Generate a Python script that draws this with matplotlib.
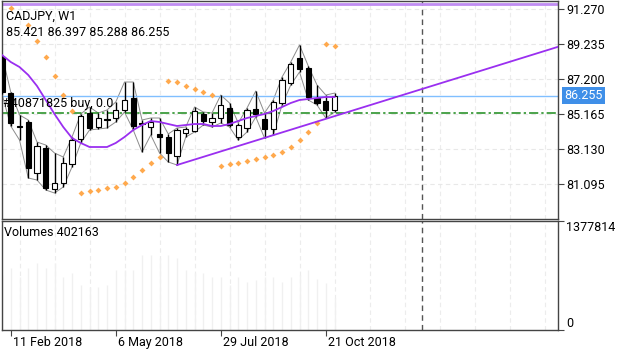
import matplotlib
matplotlib.use("Agg")
import matplotlib.pyplot as plt
import matplotlib.transforms as mtransforms
import numpy as np
import pandas as pd

plt.rcParams['font.family'] = ['Roboto', 'DejaVu Sans']

symbol = "CADJPY, W1"
dates = pd.date_range("2018-02-04", periods=39, freq="W-SUN")

# weekly OHLC
opens = [88.497, 86.404, 84.514, 84.718, 81.752, 83.206, 80.822, 81.171, 82.276, 83.729,
         85.241, 84.427, 84.892, 84.950, 85.415, 86.113, 84.659, 84.427, 84.020, 83.845,
         82.741, 84.078, 84.194, 85.183, 84.718, 84.950, 85.532, 83.845, 84.369, 85.473,
         84.892, 84.311, 85.822, 86.985, 88.439, 87.857, 86.113, 85.939, 85.421]
highs = [88.613, 86.462, 85.125, 84.834, 83.555, 83.380, 82.915, 82.683, 83.845, 85.183,
         85.590, 85.241, 85.415, 85.880, 87.043, 87.043, 84.834, 84.950, 84.950, 84.020,
         84.369, 84.427, 85.590, 85.299, 85.241, 86.287, 85.822, 84.659, 85.532, 86.520,
         85.241, 85.997, 87.334, 88.206, 89.195, 87.974, 86.869, 86.287, 86.397]
lows = [86.346, 84.485, 83.671, 81.462, 81.345, 80.764, 80.589, 80.938, 82.101, 83.497,
        84.252, 84.311, 84.369, 84.718, 85.299, 84.252, 82.973, 83.962, 82.915, 82.392,
        82.217, 83.845, 84.136, 84.543, 84.427, 84.659, 84.427, 83.671, 84.136, 85.008,
        83.787, 83.962, 85.706, 86.869, 87.625, 85.997, 85.706, 84.950, 85.288]
closes = [86.462, 84.659, 84.456, 82.043, 83.322, 80.880, 81.171, 82.334, 83.671, 85.066,
          84.369, 84.950, 84.834, 85.415, 85.997, 84.485, 84.601, 84.718, 83.845, 82.915,
          84.252, 84.311, 85.357, 84.776, 84.950, 85.706, 84.543, 84.543, 85.415, 85.183,
          84.311, 85.880, 87.160, 88.090, 87.799, 86.171, 85.822, 85.415, 86.255]

ma = [88.613, 88.206, 87.915, 87.450, 86.811, 85.997, 85.183, 84.427, 83.787, 83.497,
      83.264, 83.264, 83.264, 83.497, 83.845, 84.252, 84.543, 84.776, 84.718, 84.601,
      84.485, 84.543, 84.601, 84.601, 84.485, 84.485, 84.601, 84.776, 84.950, 85.066,
      85.183, 85.357, 85.590, 85.822, 85.997, 86.055, 86.113, 86.171, 86.171]

sar = [np.nan, 91.346, np.nan, 90.357, 89.427, 88.497, 87.392, 86.287, 85.357, 80.589,
       80.706, 80.764, 80.880, 80.938, 81.171, 81.520, 81.927, 82.334, 82.683, 87.101,
       87.043, 86.811, 86.636, 86.462, 86.287, 82.159, 82.276, 82.334, 82.450, 82.566,
       82.683, 82.799, 82.973, 83.264, 83.671, 84.136, 84.659, 89.253, 89.136]

volumes = [700000, 780000, 674000, 780000, 845000, 780000, 845000, 674000, 716000, 569000,
           548000, 548000, 569000, 758000, 758000, 758000, 948000, 948000, 906000, 948000,
           906000, 758000, 716000, 716000, 674000, 674000, 569000, 674000, 611000, 632000,
           674000, 674000, 611000, 674000, 700000, 760000, 650000, 600000, 402163]

price_ticks = [91.270, 89.235, 87.200, 85.165, 83.130, 81.095]
vol_max = 1377814
order_label = "#40871825 buy, 0.0"
order_price = 85.22
top_line_price = 91.578
trend_pts = [(20, 82.217), (37, 84.90)]
future_line = 48
date_tick_idx = [1, 13, 25, 37]

W, H = 625, 351
fig = plt.figure(figsize=(W / 100, H / 100), dpi=100)
ax = fig.add_axes([2 / W, (H - 219) / H, 556 / W, 218 / H])
vax = fig.add_axes([2 / W, (H - 330) / H, 556 / W, 109 / H])

x = np.arange(len(opens))
xmax = 63.54
for a in (ax, vax):
    a.set_xlim(0, xmax)
    for s in a.spines.values():
        s.set_color("#444444")
        s.set_linewidth(1)
    for g in range(2, 64, 4):
        a.axvline(g, color="#ececec", lw=0.8, ls=(0, (4, 3)), zorder=0)
    a.axvline(future_line, color="#555555", lw=1, ls=(0, (4, 3)), zorder=2)

ax.set_ylim(79.078, 91.753)
for p in price_ticks:
    ax.axhline(p, color="#e8e8e8", lw=0.8, ls=(0, (4, 3)), zorder=0)

# high / low envelope
ax.plot(x, highs, color="#8c8c8c", lw=0.7, zorder=1)
ax.plot(x, lows, color="#8c8c8c", lw=0.7, zorder=1)

# candles
o = np.array(opens)
c = np.array(closes)
ax.vlines(x, lows, highs, color="black", lw=1, zorder=3)
bottoms = np.minimum(o, c)
heights = np.maximum(np.abs(c - o), 0.04)
colors = ["white" if cc > oo else "black" for oo, cc in zip(o, c)]
ax.bar(x, heights, bottom=bottoms, width=0.6, color=colors, edgecolor="black",
       linewidth=0.8, zorder=3.5)

# indicators
ax.plot(x, ma, color="#9a2ff0", lw=1.3, zorder=4)
ax.scatter(x, sar, marker="D", s=9, color="#ffa94d", zorder=4, linewidths=0)
(t0, p0), (t1, p1) = trend_pts
slope = (p1 - p0) / (t1 - t0)
ax.plot([t0, xmax], [p0, p0 + slope * (xmax - t0)], color="#9a2ff0", lw=1.3, zorder=4)

ax.axhline(closes[-1], color="#80bfff", lw=1, zorder=2)
ax.axhline(order_price, color="#1a8a1a", lw=1.1, ls=(0, (6, 2, 1.5, 2)), zorder=2)
ax.axhline(top_line_price, color="#c08cf2", lw=2, zorder=2)

ax.yaxis.tick_right()
ax.set_yticks(price_ticks)
ax.set_yticklabels([f"{p:.3f}" for p in price_ticks])
ax.tick_params(axis="y", length=4, width=0.8, color="#444444", labelsize=9, pad=2)
ax.set_xticks([])

ax.annotate(f"{closes[-1]:.3f}", xy=(1, closes[-1]), xycoords=ax.get_yaxis_transform(),
            xytext=(6, 0), textcoords="offset pixels", va="center", ha="left",
            fontsize=9, color="white",
            bbox=dict(boxstyle="square,pad=0.18", fc="#3f8fe8", ec="none"))

# volume panel
vax.vlines(x, 0, volumes, color="#f0f0f0", lw=1, zorder=1)
vax.set_ylim(0, vol_max)
vax.yaxis.tick_right()
vax.set_yticks([0, vol_max])
vax.set_yticklabels(["0", str(vol_max)])
vax.tick_params(axis="y", length=4, width=0.8, color="#444444", labelsize=9, pad=2)
ylabs = vax.get_yticklabels()
ylabs[0].set_va("bottom")
ylabs[1].set_va("top")

vax.set_xticks(date_tick_idx)
vax.set_xticklabels([f"{dates[i].day} {dates[i].strftime('%b %Y')}" for i in date_tick_idx])
vax.tick_params(axis="x", length=4, width=0.8, color="#444444", labelsize=9, pad=0.5)
shift = mtransforms.ScaledTranslation(2 / 100, 0, fig.dpi_scale_trans)
for lab in vax.get_xticklabels():
    lab.set_ha("left")
    lab.set_transform(lab.get_transform() + shift)

# header texts
fig.text(6 / W, 1 - 16.5 / H, symbol, fontsize=9, va="center", ha="left")
fig.text(6 / W, 1 - 33 / H, " ".join(f"{v:.3f}" for v in
         [opens[-1], highs[-1], lows[-1], closes[-1]]), fontsize=9, va="center", ha="left")
fig.text(3 / W, 1 - 104 / H, order_label, fontsize=9, va="center", ha="left")
fig.text(4 / W, 1 - 233 / H, f"Volumes {volumes[-1]}", fontsize=9, va="center", ha="left")

fig.savefig("out.png", dpi=100)
